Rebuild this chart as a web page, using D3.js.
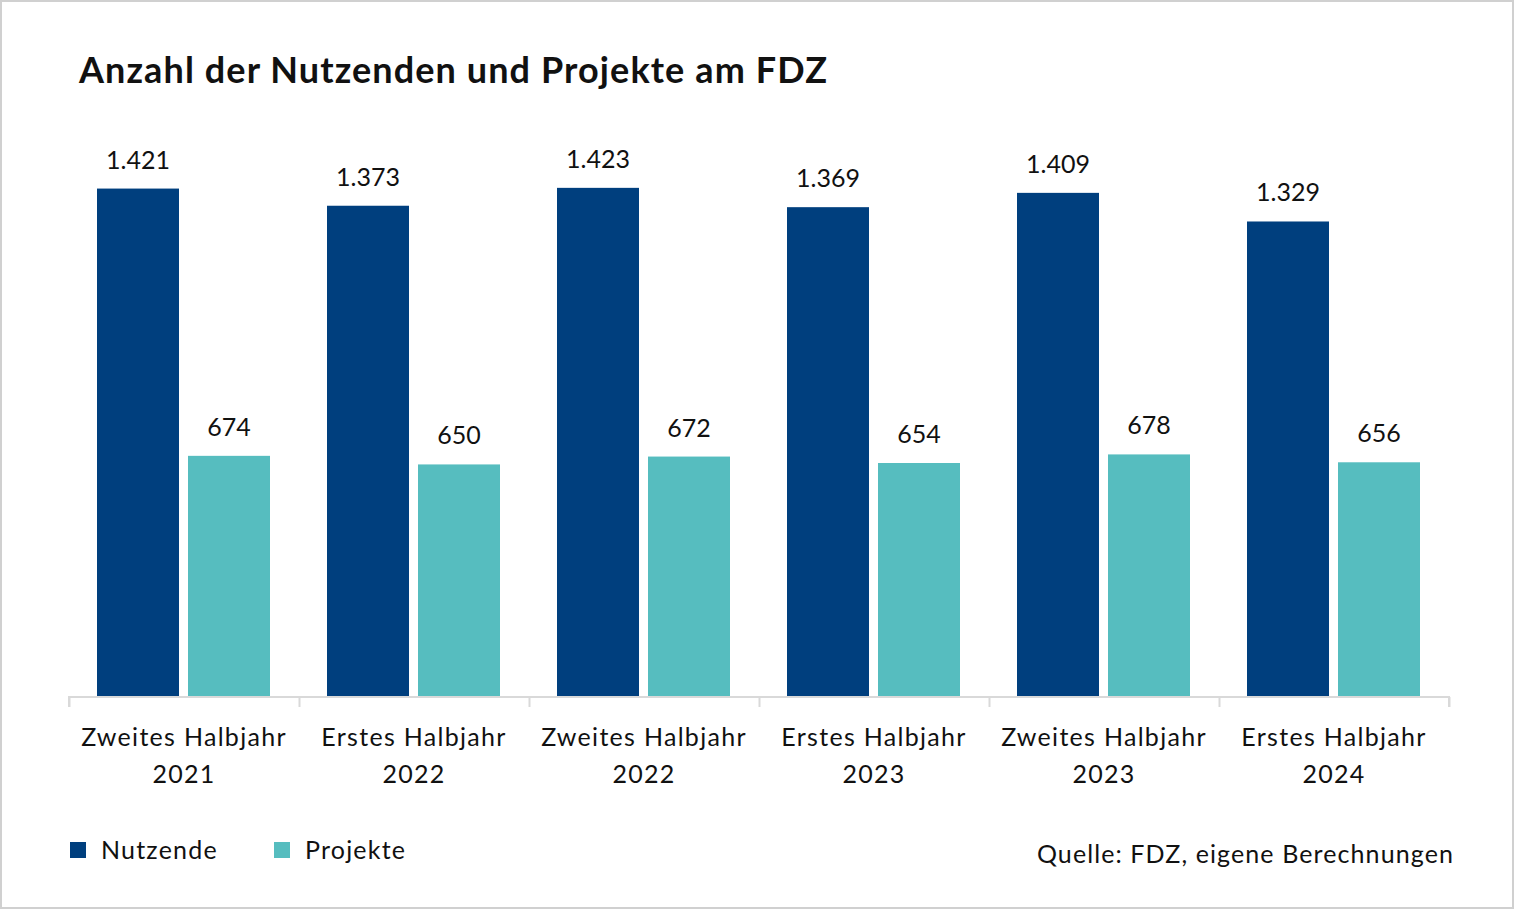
<!DOCTYPE html>
<html><head><meta charset="utf-8">
<script src="https://cdn.jsdelivr.net/npm/d3@7"></script>
<style>
html,body{margin:0;padding:0;background:#fff;}
svg{display:block;}
text{font-family:Lato,"Open Sans",sans-serif;fill:#111;}
</style></head>
<body>
<svg id="chart" width="1514" height="909"></svg>
<script>
const categories = [["Zweites Halbjahr","2021"],["Erstes Halbjahr","2022"],["Zweites Halbjahr","2022"],["Erstes Halbjahr","2023"],["Zweites Halbjahr","2023"],["Erstes Halbjahr","2024"]];
const seriesNames = ["Nutzende","Projekte"];
const nutzende = [1421,1373,1423,1369,1409,1329];
const projekte = [674,650,672,654,678,656];
const colors = ["#003f7e","#56bdbf"];
const title = "Anzahl der Nutzenden und Projekte am FDZ";
const source = "Quelle: FDZ, eigene Berechnungen";

const svg = d3.select("#chart");
const W = 1514, H = 909;
svg.append("rect").attr("x",1).attr("y",1).attr("width",W-2).attr("height",H-2)
  .attr("fill","#fff").attr("stroke","#d0d0d0").attr("stroke-width",2);

svg.append("text").attr("x",79).attr("y",83).text(title)
  .style("font-size","36px").style("font-weight","bold").style("letter-spacing","1.1px");

const left=69, right=1449, base=697;
const x0 = d3.scaleBand().domain(d3.range(categories.length)).range([left,right]).paddingInner(0).paddingOuter(0);
const x1 = d3.scaleBand().domain(seriesNames).range([28, 201]).paddingInner(9/91);
const y = d3.scaleLinear().domain([0,1600]).range([base, base-1600*0.3578]);

const data = categories.map((c,i)=>({i, vals:[nutzende[i],projekte[i]]}));
const g = svg.selectAll("g.grp").data(data).enter().append("g")
  .attr("transform",d=>`translate(${x0(d.i)},0)`);
g.selectAll("rect").data(d=>d.vals.map((v,k)=>({v,k}))).enter().append("rect")
  .attr("x",d=>x1(seriesNames[d.k])).attr("width",x1.bandwidth())
  .attr("y",d=>y(d.v)).attr("height",d=>base-y(d.v)).attr("fill",d=>colors[d.k]);
const fmt = d3.formatLocale({decimal:",",thousands:".",grouping:[3],currency:["","€"]}).format(",d");
g.selectAll("text.val").data(d=>d.vals.map((v,k)=>({v,k}))).enter().append("text")
  .attr("class","val").attr("text-anchor","middle")
  .attr("x",d=>x1(seriesNames[d.k])+x1.bandwidth()/2).attr("y",d=>y(d.v)-20)
  .style("font-size","25px").text(d=>fmt(d.v));

// axis
const axis = d3.axisBottom(d3.scaleLinear().domain([0,categories.length]).range([left,right]))
  .ticks(categories.length).tickSize(10).tickFormat("");
const ax = svg.append("g").attr("transform",`translate(0,${base})`).call(axis);
ax.selectAll("path,line").attr("stroke","#d9d9d9").attr("stroke-width",2);
ax.select("path.domain").attr("d",`M${left},10V0H${right}V10`);

g.each(function(d){
  const t = d3.select(this).append("text").attr("text-anchor","middle")
    .style("font-size","25px").style("letter-spacing","1.3px");
  categories[d.i].forEach((line,j)=>{
    t.append("tspan").attr("x",x0.bandwidth()/2).attr("y",746+j*37).text(line);
  });
});

// legend
seriesNames.forEach((s,k)=>{
  const lx = [70,274][k];
  svg.append("rect").attr("x",lx).attr("y",842).attr("width",16).attr("height",16).attr("fill",colors[k]);
  svg.append("text").attr("x",lx+31).attr("y",859).style("font-size","25px").style("letter-spacing","1.2px").text(s);
});
svg.append("text").attr("x",1454).attr("y",863).attr("text-anchor","end")
  .style("font-size","25px").style("letter-spacing","1.1px").text(source);
</script>
</body></html>
